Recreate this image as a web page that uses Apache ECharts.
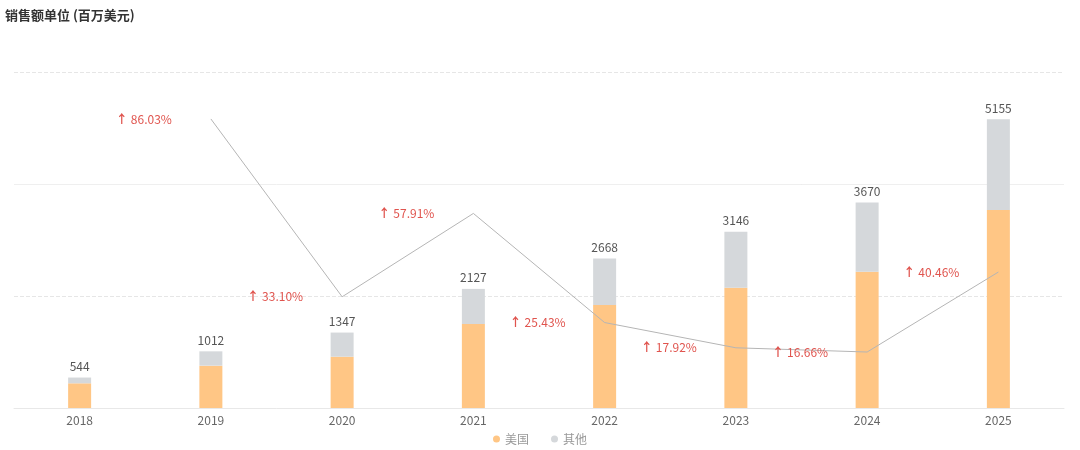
<!DOCTYPE html>
<html>
<head>
<meta charset="utf-8">
<script src="https://cdn.jsdelivr.net/npm/echarts@6/dist/echarts.min.js"></script>
<style>html,body{margin:0;padding:0;background:#fff}#c{width:1080px;height:450px}</style>
</head>
<body>
<div id="c"></div>
<script>
var years = ['2018','2019','2020','2021','2022','2023','2024','2025'];
var usa = [441, 756, 916, 1500, 1839, 2149, 2434, 3536];
var totals = [544, 1012, 1347, 2127, 2668, 3146, 3670, 5155];
var other = [103, 256, 431, 627, 829, 997, 1236, 1619];
var growth = [null, 86.03, 33.10, 57.91, 25.43, 17.92, 16.66, 40.46];
var seriesNames = ['美国', '其他'];
var titleText = '销售额单位 (百万美元)';

var font = '"Noto Sans CJK SC", "Noto Sans", sans-serif';
var chart = echarts.init(document.getElementById('c'));
chart.setOption({
  animation: false,
  textStyle: { fontFamily: font },
  title: { text: titleText, left: 0, top: 4, textStyle: { fontSize: 13, fontWeight: 'bold', color: '#333', fontFamily: font } },
  legend: {
    bottom: 0, left: 'center', icon: 'circle', itemWidth: 7, itemHeight: 7, itemGap: 22,
    data: seriesNames,
    textStyle: { color: '#999', fontSize: 12, fontFamily: font }
  },
  grid: { left: 14, right: 16, top: 72, bottom: 42, containLabel: false },
  xAxis: {
    type: 'category', data: years, boundaryGap: true,
    axisLine: { lineStyle: { color: '#e8e8e8' } },
    axisTick: { show: false },
    axisLabel: { color: '#666', fontSize: 12, margin: 6, fontFamily: font }
  },
  yAxis: [
    { type: 'value', min: 0, max: 6000, interval: 2000, axisLabel: { show: false }, axisLine: { show: false }, axisTick: { show: false },
      splitLine: { lineStyle: { color: '#e6e6e6', type: 'dashed' } } },
    { type: 'value', min: 0, max: 100, axisLabel: { show: false }, axisLine: { show: false }, axisTick: { show: false }, splitLine: { show: false } },
    { type: 'value', min: 0, max: 6000, interval: 4000, axisLabel: { show: false }, axisLine: { show: false }, axisTick: { show: false },
      splitLine: { show: true, showMinLine: false, showMaxLine: false, lineStyle: { color: '#efefef', type: 'solid' } } }
  ],
  series: [
    { name: seriesNames[0], type: 'bar', stack: 'a', data: usa, barWidth: 23, itemStyle: { color: '#FFC685' } },
    { name: seriesNames[1], type: 'bar', stack: 'a', data: other, barWidth: 23, itemStyle: { color: '#D5D8DB' },
      label: { show: true, position: 'top', color: '#555', fontSize: 12, fontFamily: font,
        formatter: function (p) { return totals[p.dataIndex]; } } },
    { name: '增长', type: 'line', yAxisIndex: 1, data: growth, symbol: 'circle', symbolSize: 1, showSymbol: true,
      lineStyle: { color: '#b5b5b5', width: 1 }, itemStyle: { color: 'rgba(0,0,0,0)' },
      label: { show: true, position: 'inside', offset: [-67, 0],
        formatter: function (p) { return p.value == null ? '' : '{a|↑}' + p.value.toFixed(2) + '%'; },
        color: '#E0544E', fontSize: 12, fontFamily: font,
        rich: { a: { color: '#E0544E', fontSize: 12, fontWeight: 'bold', padding: [0, 3, 0, 0] } } },
      z: 5 }
  ]
});
</script>
</body>
</html>
